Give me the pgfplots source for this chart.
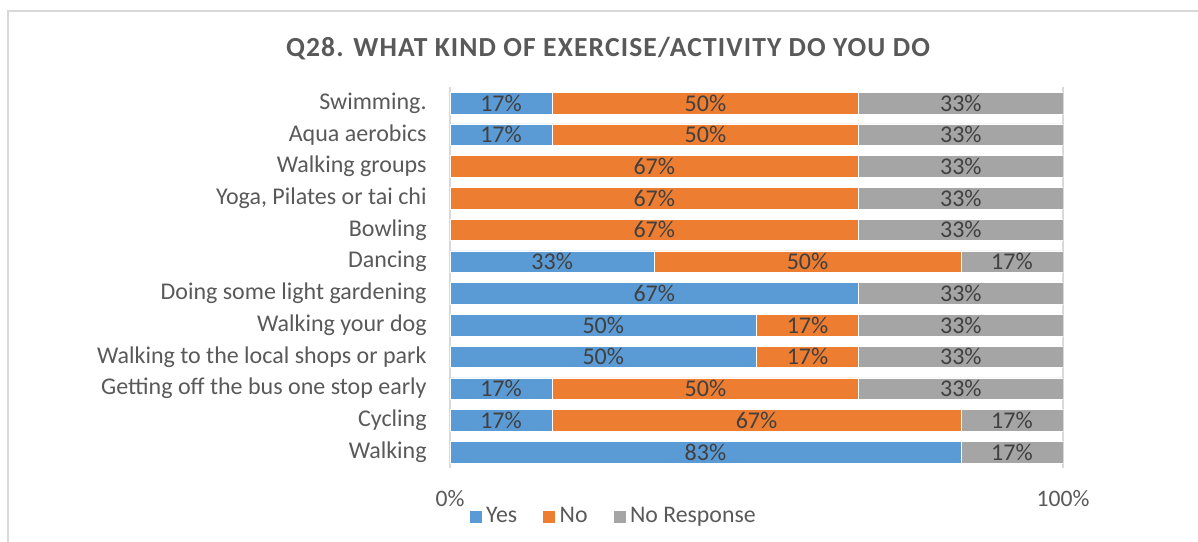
\documentclass[border=0pt]{standalone}
\usepackage{fontspec}
\setmainfont{Carlito}
\newfontfamily\titlefont[LetterSpace=4]{Carlito}
\usepackage{pgfplots}
\pgfplotsset{compat=1.18}
\definecolor{cyes}{HTML}{5B9BD5}
\definecolor{cno}{HTML}{ED7D31}
\definecolor{cnr}{HTML}{A5A5A5}
\definecolor{ctext}{HTML}{595959}
\definecolor{clab}{HTML}{404040}
\definecolor{cgrid}{HTML}{D9D9D9}
\begin{document}
\begin{tikzpicture}
\useasboundingbox (0,0) rectangle (599bp,271bp);
\draw[cgrid, line width=0.75bp] (4bp,0) -- (4bp,265.5bp) -- (599bp,265.5bp);
\node[text=ctext, font=\titlefont\bfseries\fontsize{13.8bp}{16bp}\selectfont] at (304bp,246.5bp) {Q28. WHAT KIND OF EXERCISE/ACTIVITY DO YOU DO};
\pgfplotsset{base/.style={
  scale only axis, width=306.5bp, height=190.4bp,
  at={(225bp,37.05bp)}, anchor=south west,
  xmin=0, xmax=100, ymin=-0.5, ymax=11.5, y dir=reverse,
}}
\begin{axis}[base, xbar stacked, bar width=0.68,
  axis line style={draw=none},
  xtick={0,100}, xticklabels={0\%,100\%},
  xmajorgrids, grid style={cgrid, line width=0.75bp},
  major tick length=0pt,
  x tick label style={anchor=center, yshift=-15.5bp, text=ctext, font=\fontsize{11.8bp}{13bp}\selectfont},
  ytick={0,...,11},
  yticklabels={Swimming., Aqua aerobics, Walking groups, {Yoga, Pilates or tai chi}, Bowling, Dancing, Doing some light gardening, Walking your dog, Walking to the local shops or park, Getting off the bus one stop early, Cycling, Walking},
  y tick label style={anchor=east, inner sep=0pt, xshift=-11.5bp, text=ctext, font=\fontsize{12bp}{13bp}\selectfont},
  legend style={at={(0.02,-0.127)}, anchor=west, draw=none, fill=none, legend columns=3,
    font=\fontsize{11.9bp}{13bp}\selectfont, text=ctext,
    /tikz/every even column/.append style={column sep=10.5bp}},
  legend cell align=left,
  legend image code/.code={\fill[#1] (0bp,-3.25bp) rectangle (6.5bp,3.25bp);},
]
\addplot[fill=cyes, draw=white, line width=0.25bp] coordinates {
(16.67,0) (16.67,1) (0,2) (0,3) (0,4) (33.33,5) (66.67,6) (50,7) (50,8) (16.67,9) (16.66,10) (83.33,11)};
\addplot[fill=cno, draw=white, line width=0.25bp] coordinates {
(50,0) (50,1) (66.67,2) (66.67,3) (66.67,4) (50,5) (0,6) (16.67,7) (16.67,8) (50,9) (66.67,10) (0,11)};
\addplot[fill=cnr, draw=white, line width=0.25bp] coordinates {
(33.33,0) (33.33,1) (33.33,2) (33.33,3) (33.33,4) (16.67,5) (33.33,6) (33.33,7) (33.33,8) (33.33,9) (16.67,10) (16.67,11)};
\legend{Yes, No, No Response}
\end{axis}
\begin{axis}[base, hide axis]
\addplot[only marks, mark=none, point meta=explicit symbolic,
  nodes near coords, nodes near coords align=center,
  every node near coord/.append style={anchor=center, text=clab, font=\fontsize{12bp}{13bp}\selectfont}]
coordinates {
(8.33,0) [17\%] (41.67,0) [50\%] (83.33,0) [33\%]
(8.33,1) [17\%] (41.67,1) [50\%] (83.33,1) [33\%]
(33.33,2) [67\%] (83.33,2) [33\%]
(33.33,3) [67\%] (83.33,3) [33\%]
(33.33,4) [67\%] (83.33,4) [33\%]
(16.67,5) [33\%] (58.33,5) [50\%] (91.67,5) [17\%]
(33.33,6) [67\%] (83.33,6) [33\%]
(25,7) [50\%] (58.33,7) [17\%] (83.33,7) [33\%]
(25,8) [50\%] (58.33,8) [17\%] (83.33,8) [33\%]
(8.33,9) [17\%] (41.67,9) [50\%] (83.33,9) [33\%]
(8.33,10) [17\%] (50,10) [67\%] (91.67,10) [17\%]
(41.67,11) [83\%] (91.67,11) [17\%]
};
\end{axis}
\end{tikzpicture}
\end{document}
